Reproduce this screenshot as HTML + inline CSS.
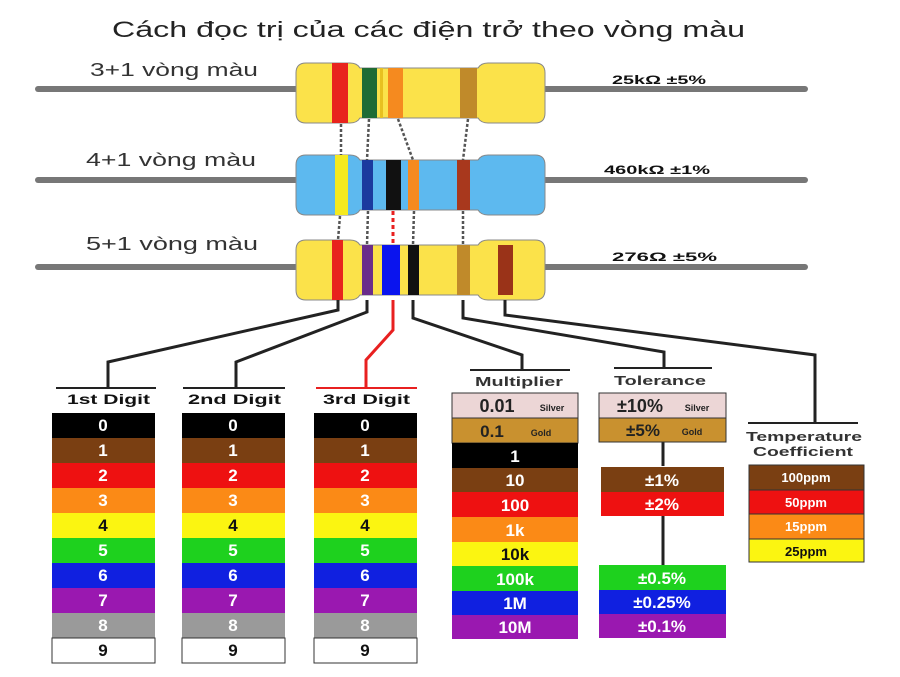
<!DOCTYPE html>
<html><head><meta charset="utf-8"><style>
body{margin:0;background:#fff}
svg text{font-family:"Liberation Sans",sans-serif}
</style></head><body>
<svg width="900" height="672" viewBox="0 0 900 672" xmlns="http://www.w3.org/2000/svg">
<text x="112" y="37" font-size="22" fill="#222" textLength="633" lengthAdjust="spacingAndGlyphs">Cách đọc trị của các điện trở theo vòng màu</text>
<g font-size="18" fill="#333">
<text x="90" y="76" textLength="168" lengthAdjust="spacingAndGlyphs">3+1 vòng màu</text>
<text x="86" y="166" textLength="170" lengthAdjust="spacingAndGlyphs">4+1 vòng màu</text>
<text x="86" y="250" textLength="172" lengthAdjust="spacingAndGlyphs">5+1  vòng màu</text>
</g>
<g font-size="12" font-weight="bold" fill="#111">
<text x="612" y="84" textLength="94" lengthAdjust="spacingAndGlyphs">25kΩ  ±5%</text>
<text x="604" y="174" textLength="106" lengthAdjust="spacingAndGlyphs">460kΩ  ±1%</text>
<text x="612" y="261" textLength="105" lengthAdjust="spacingAndGlyphs">276Ω  ±5%</text>
</g>
<g stroke="#777" stroke-width="6" stroke-linecap="round">
<line x1="38" y1="89" x2="300" y2="89"/><line x1="540" y1="89" x2="805" y2="89"/>
<line x1="38" y1="180" x2="300" y2="180"/><line x1="540" y1="180" x2="805" y2="180"/>
<line x1="38" y1="267" x2="300" y2="267"/><line x1="540" y1="267" x2="805" y2="267"/>
</g>
<g stroke="#888" stroke-width="1">
<path d="M306 63 H350 Q357 63 360 68 H478 Q481 63 488 63 H535 Q545 63 545 73 V113 Q545 123 535 123 H488 Q481 123 478 118 H360 Q357 123 350 123 H306 Q296 123 296 113 V73 Q296 63 306 63Z" fill="#fbe24a"/>
<path d="M306 155 H350 Q357 155 360 160 H478 Q481 155 488 155 H535 Q545 155 545 165 V205 Q545 215 535 215 H488 Q481 215 478 210 H360 Q357 215 350 215 H306 Q296 215 296 205 V165 Q296 155 306 155Z" fill="#5db9ef"/>
<path d="M306 240 H350 Q357 240 360 245 H478 Q481 240 488 240 H535 Q545 240 545 250 V290 Q545 300 535 300 H488 Q481 300 478 295 H360 Q357 300 350 300 H306 Q296 300 296 290 V250 Q296 240 306 240Z" fill="#fbe24a"/>
</g>
<rect x="332" y="63" width="16" height="60" fill="#e8231d"/>
<rect x="362" y="68" width="15" height="50" fill="#1f6b35"/>
<rect x="380" y="68" width="3" height="50" fill="#e8c020"/>
<rect x="388" y="68" width="15" height="50" fill="#f58a1f"/>
<rect x="460" y="68" width="17" height="50" fill="#c08a2a"/>
<rect x="335" y="155" width="13" height="60" fill="#f5ea20"/>
<rect x="362" y="160" width="11" height="50" fill="#1b3a9e"/>
<rect x="386" y="160" width="15" height="50" fill="#111"/>
<rect x="408" y="160" width="11" height="50" fill="#f58a1f"/>
<rect x="457" y="160" width="13" height="50" fill="#a8381d"/>
<rect x="332" y="240" width="11" height="60" fill="#e8231d"/>
<rect x="362" y="245" width="11" height="50" fill="#6a2d8a"/>
<rect x="382" y="245" width="18" height="50" fill="#0a14ee"/>
<rect x="408" y="245" width="11" height="50" fill="#111"/>
<rect x="457" y="245" width="13" height="50" fill="#c08a2a"/>
<rect x="498" y="245" width="15" height="50" fill="#9a3318"/>
<g stroke="#555" stroke-width="2.5" stroke-dasharray="3,2" fill="none">
<line x1="341" y1="124" x2="341" y2="155"/>
<line x1="369" y1="119" x2="367" y2="160"/>
<line x1="398" y1="119" x2="413" y2="160"/>
<line x1="468" y1="119" x2="463" y2="160"/>
<line x1="340" y1="216" x2="338" y2="240"/>
<line x1="368" y1="211" x2="367" y2="245"/>
<line x1="414" y1="211" x2="413" y2="245"/>
<line x1="463" y1="211" x2="463" y2="245"/>
</g>
<line x1="393" y1="211" x2="393" y2="243" stroke="#e82020" stroke-width="3" stroke-dasharray="4,3"/>
<g stroke="#222" stroke-width="3" fill="none">
<polyline points="338,300 338,310 108,362 108,388"/>
<polyline points="367,300 367,312 236,362 236,388"/>
<polyline points="413,300 413,318 522,355 522,370"/>
<polyline points="463,300 463,318 664,352 664,368"/>
<polyline points="505,300 505,315 815,355 815,423"/>
<line x1="663" y1="442" x2="663" y2="466"/>
<line x1="663" y1="516" x2="663" y2="566"/>
</g>
<polyline points="393,300 393,330 366,360 366,388" stroke="#e82020" stroke-width="3" fill="none"/>
<g stroke="#222" stroke-width="2">
<line x1="56" y1="388" x2="156" y2="388"/>
<line x1="183" y1="388" x2="285" y2="388"/>
<line x1="470" y1="370" x2="570" y2="370"/>
<line x1="614" y1="368" x2="712" y2="368"/>
<line x1="748" y1="423" x2="858" y2="423"/>
</g>
<line x1="316" y1="388" x2="417" y2="388" stroke="#e82020" stroke-width="2"/>
<g font-size="14" font-weight="bold" fill="#111">
<text x="67" y="404" textLength="83" lengthAdjust="spacingAndGlyphs">1st Digit</text>
<text x="188" y="404" textLength="93" lengthAdjust="spacingAndGlyphs">2nd Digit</text>
<text x="323" y="404" textLength="87" lengthAdjust="spacingAndGlyphs">3rd Digit</text>
</g>
<g font-size="13" font-weight="bold" fill="#333">
<text x="475" y="386" textLength="88" lengthAdjust="spacingAndGlyphs">Multiplier</text>
<text x="614" y="385" textLength="92" lengthAdjust="spacingAndGlyphs">Tolerance</text>
<text x="746" y="441" textLength="116" lengthAdjust="spacingAndGlyphs">Temperature</text>
<text x="753" y="456" textLength="100" lengthAdjust="spacingAndGlyphs">Coefficient</text>
</g>
<g id="dt" font-size="17" font-weight="bold" text-anchor="middle">
<rect x="52" y="413" width="103" height="25" fill="#000"/><text x="103" y="431" fill="#fff">0</text>
<rect x="52" y="438" width="103" height="25" fill="#7a3f12"/><text x="103" y="456" fill="#fff">1</text>
<rect x="52" y="463" width="103" height="25" fill="#ee1111"/><text x="103" y="481" fill="#fff">2</text>
<rect x="52" y="488" width="103" height="25" fill="#fb8a16"/><text x="103" y="506" fill="#fff">3</text>
<rect x="52" y="513" width="103" height="25" fill="#fbf511"/><text x="103" y="531" fill="#111">4</text>
<rect x="52" y="538" width="103" height="25" fill="#1ed11e"/><text x="103" y="556" fill="#fff">5</text>
<rect x="52" y="563" width="103" height="25" fill="#1020e0"/><text x="103" y="581" fill="#fff">6</text>
<rect x="52" y="588" width="103" height="25" fill="#9a18b0"/><text x="103" y="606" fill="#fff">7</text>
<rect x="52" y="613" width="103" height="25" fill="#9a9a9a"/><text x="103" y="631" fill="#fff">8</text>
<rect x="52" y="638" width="103" height="25" fill="#fff" stroke="#333"/><text x="103" y="656" fill="#111">9</text>
</g>
<use href="#dt" x="130"/>
<use href="#dt" x="262"/>
<g font-weight="bold" text-anchor="middle" font-size="17">
<rect x="452" y="393" width="126" height="25" fill="#ecd6d6" stroke="#333"/><text x="497" y="412" fill="#222" font-size="18">0.01</text><text x="552" y="411" font-size="9" fill="#222">Silver</text>
<rect x="452" y="418" width="126" height="25" fill="#c9912f" stroke="#333"/><text x="492" y="437" fill="#222">0.1</text><text x="541" y="436" font-size="9" fill="#222">Gold</text>
<rect x="452" y="443" width="126" height="25" fill="#000"/><text x="515" y="462" fill="#fff">1</text>
<rect x="452" y="468" width="126" height="24" fill="#7a3f12"/><text x="515" y="486" fill="#fff">10</text>
<rect x="452" y="492" width="126" height="25" fill="#ee1111"/><text x="515" y="511" fill="#fff">100</text>
<rect x="452" y="517" width="126" height="25" fill="#fb8a16"/><text x="515" y="536" fill="#fff">1k</text>
<rect x="452" y="542" width="126" height="24" fill="#fbf511"/><text x="515" y="560" fill="#111">10k</text>
<rect x="452" y="566" width="126" height="25" fill="#1ed11e"/><text x="515" y="585" fill="#fff">100k</text>
<rect x="452" y="591" width="126" height="24" fill="#1020e0"/><text x="515" y="609" fill="#fff">1M</text>
<rect x="452" y="615" width="126" height="24" fill="#9a18b0"/><text x="515" y="633" fill="#fff">10M</text>
<rect x="599" y="393" width="127" height="25" fill="#ecd6d6" stroke="#333"/><text x="640" y="412" fill="#222" font-size="18">±10%</text><text x="697" y="411" font-size="9" fill="#222">Silver</text>
<rect x="599" y="418" width="127" height="24" fill="#c9912f" stroke="#333"/><text x="643" y="436" fill="#222">±5%</text><text x="692" y="435" font-size="9" fill="#222">Gold</text>
<rect x="601" y="467" width="123" height="25" fill="#7a3f12"/><text x="662" y="486" fill="#fff">±1%</text>
<rect x="601" y="492" width="123" height="24" fill="#ee1111"/><text x="662" y="510" fill="#fff">±2%</text>
<rect x="599" y="565" width="127" height="25" fill="#1ed11e"/><text x="662" y="584" fill="#fff">±0.5%</text>
<rect x="599" y="590" width="127" height="24" fill="#1020e0"/><text x="662" y="608" fill="#fff">±0.25%</text>
<rect x="599" y="614" width="127" height="24" fill="#9a18b0"/><text x="662" y="632" fill="#fff">±0.1%</text>
<g font-size="13">
<rect x="749" y="465" width="115" height="25" fill="#7a3f12" stroke="#333"/><text x="806" y="482" fill="#fff">100ppm</text>
<rect x="749" y="490" width="115" height="24" fill="#ee1111" stroke="#333"/><text x="806" y="507" fill="#fff">50ppm</text>
<rect x="749" y="514" width="115" height="25" fill="#fb8a16" stroke="#333"/><text x="806" y="531" fill="#fff">15ppm</text>
<rect x="749" y="539" width="115" height="23" fill="#fbf511" stroke="#333"/><text x="806" y="556" fill="#111">25ppm</text>
</g>
</g>
</svg>
</body></html>
